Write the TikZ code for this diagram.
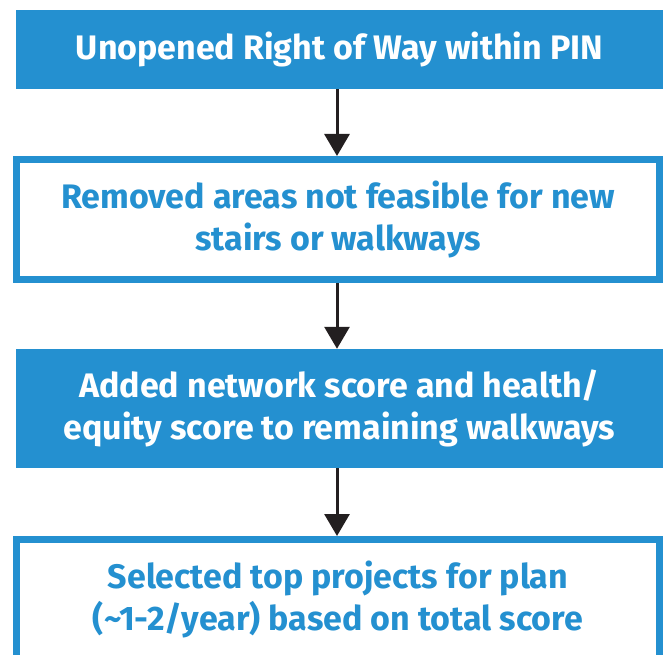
\documentclass[tikz,border=0pt]{standalone}
\usepackage{fontspec}
\setmainfont{Fira Sans}
\usepackage{xcolor}
\usetikzlibrary{positioning,arrows.meta}

\definecolor{stepblue}{RGB}{36,144,208}
\definecolor{arrowgray}{RGB}{35,31,32}

\tikzset{
    filledbox/.style={rectangle, fill=stepblue, text=white, minimum width=647pt,
        minimum height=79pt, align=center, inner sep=0pt,
        font=\fontsize{34}{42}\selectfont\bfseries},
    framedbox/.style={rectangle, draw=stepblue, line width=7pt, fill=white, text=stepblue,
        minimum width=643pt, minimum height=120pt, align=center, inner sep=0pt,
        font=\fontsize{34}{42}\selectfont\bfseries},
    flowarrow/.style={draw=arrowgray, line width=3pt,
        -{Triangle[width=25pt,length=22pt]}}
}

\begin{document}
\begin{tikzpicture}[x=1pt,y=-1pt]
    \useasboundingbox (0,0) rectangle (665,655);

    % steps
    \node[filledbox] (unopened) at (339.5,49.5) {Unopened Right of Way within PIN};
    \node[framedbox] (removed) at (338,219.5)
        {Removed areas not feasible for new\\stairs or walkways};
    \node[filledbox, minimum height=119pt] (added) at (339.5,408.5)
        {Added network score and health/\\equity score to remaining walkways};
    \node[framedbox] (selected) at (338,599.5)
        {Selected top projects for plan\\(\textasciitilde1-2/year) based on total score};

    % arrows between steps
    \draw[flowarrow] (unopened.south -| 337,0) -- (removed.north -| 337,0);
    \draw[flowarrow] (removed.south -| 337,0) -- (added.north -| 337,0);
    \draw[flowarrow] (added.south -| 337,0) -- (selected.north -| 337,0);
\end{tikzpicture}
\end{document}
